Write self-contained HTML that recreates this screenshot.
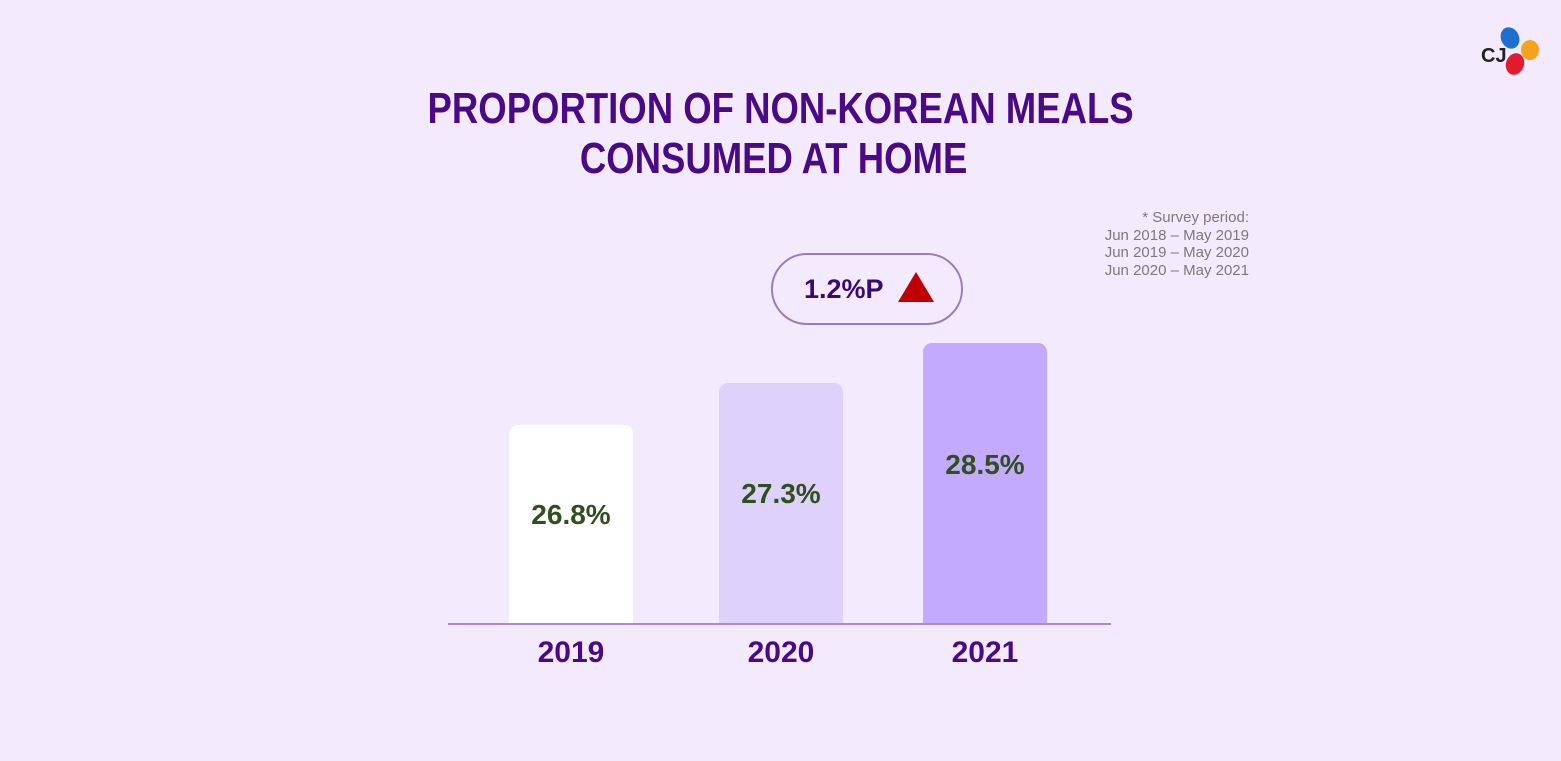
<!DOCTYPE html>
<html><head><style>
body{margin:0;width:1561px;height:761px;background:#f3ebfd;position:relative;overflow:hidden;font-family:"Liberation Sans",sans-serif}
.a{position:absolute}
.t{left:0;width:1561px;text-align:center;color:#4a0a86;font-weight:bold;font-size:44px;transform:scaleX(0.83);transform-origin:781px 0;white-space:nowrap}
.bar{position:absolute;width:124px;border-radius:9px 9px 0 0}
.v{position:absolute;width:124px;text-align:center;color:#2f4f1f;font-weight:bold;font-size:28px}
.y{position:absolute;width:124px;text-align:center;color:#4a0a86;font-weight:bold;font-size:30px;top:636px}
</style></head><body>
<div class="a t" style="top:84px;left:0">PROPORTION OF NON-KOREAN MEALS</div>
<div class="a t" style="top:134px;left:-7px">CONSUMED AT HOME</div>
<div class="a" style="right:312px;top:209px;text-align:right;color:#7a7a7a;font-size:15px;line-height:17.5px">* Survey period:<br>Jun 2018 – May 2019<br>Jun 2019 – May 2020<br>Jun 2020 – May 2021</div>
<div class="a" style="left:771px;top:253px;width:188px;height:68px;border:2px solid #9b7cc4;border-radius:36px"></div>
<div class="a" style="left:804px;top:274px;color:#3a0a70;font-weight:bold;font-size:27px">1.2%P</div>
<svg class="a" style="left:898px;top:271px" width="38" height="32"><polygon points="18,1 36,31 0,31" fill="#c00000"/></svg>
<div class="bar" style="left:509px;top:425px;height:199px;background:#ffffff"></div>
<div class="bar" style="left:719px;top:383px;height:241px;background:#ded1fb"></div>
<div class="bar" style="left:923px;top:343px;height:281px;background:#c4aafd"></div>
<div class="a" style="left:448px;top:623px;width:663px;height:2px;background:#a98bcf"></div>
<div class="v" style="left:509px;top:499px">26.8%</div>
<div class="v" style="left:719px;top:478px">27.3%</div>
<div class="v" style="left:923px;top:449px">28.5%</div>
<div class="y" style="left:509px">2019</div>
<div class="y" style="left:719px">2020</div>
<div class="y" style="left:923px">2021</div>
<svg class="a" style="left:1478px;top:24px" width="70" height="54">
<ellipse cx="32" cy="14" rx="9" ry="11" fill="#1e6fd0" transform="rotate(-25 32 14)"/>
<ellipse cx="52" cy="26" rx="9" ry="10" fill="#f5a21c"/>
<ellipse cx="37" cy="40" rx="9" ry="11" fill="#e3192f" transform="rotate(20 37 40)"/>
<text x="3" y="38" font-family="Liberation Sans" font-weight="bold" font-size="20" fill="#222">CJ</text>
</svg>
</body></html>
